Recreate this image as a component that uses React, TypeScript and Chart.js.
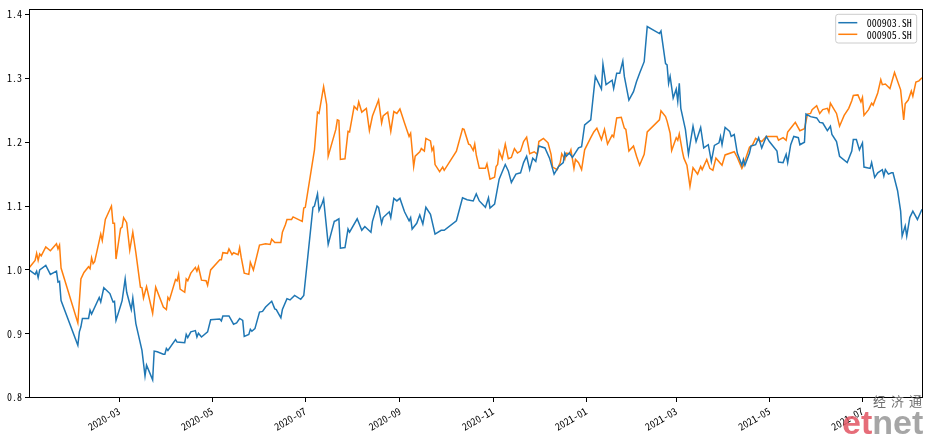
import React, { useEffect, useRef } from 'react';
import { Chart, registerables } from 'chart.js';

Chart.register(...registerables);

// ---- data ----
const seriesNames = ['000903.SH', '000905.SH'];
const seriesColors = ['#1f77b4', '#ff7f0e'];

const blueDates = [
  '2020-01-02','2020-01-06','2020-01-07','2020-01-08','2020-01-09','2020-01-13','2020-01-16','2020-01-20','2020-01-21','2020-01-22','2020-01-23',
  '2020-02-03','2020-02-04','2020-02-05','2020-02-06','2020-02-10','2020-02-11','2020-02-12','2020-02-17','2020-02-18','2020-02-20','2020-02-24','2020-02-26','2020-02-27','2020-02-28',
  '2020-03-02','2020-03-03','2020-03-05','2020-03-06','2020-03-09','2020-03-10','2020-03-12','2020-03-16','2020-03-18','2020-03-19','2020-03-23','2020-03-24','2020-03-26','2020-03-30','2020-03-31',
  '2020-04-01','2020-04-02','2020-04-07','2020-04-08','2020-04-13','2020-04-14','2020-04-15','2020-04-17','2020-04-20','2020-04-21','2020-04-22','2020-04-24','2020-04-28','2020-04-30',
  '2020-05-06','2020-05-07','2020-05-08','2020-05-12','2020-05-15','2020-05-17','2020-05-19','2020-05-21','2020-05-22','2020-05-25','2020-05-26','2020-05-27','2020-05-29',
  '2020-06-01','2020-06-03','2020-06-05','2020-06-09','2020-06-11','2020-06-12','2020-06-15','2020-06-16','2020-06-19','2020-06-21','2020-06-24','2020-06-28','2020-06-30',
  '2020-07-06','2020-07-07','2020-07-09','2020-07-10','2020-07-12','2020-07-13','2020-07-16','2020-07-20','2020-07-21','2020-07-23','2020-07-24','2020-07-27','2020-07-29','2020-07-30',
  '2020-08-04','2020-08-07','2020-08-09','2020-08-13','2020-08-14','2020-08-17','2020-08-18','2020-08-20','2020-08-21','2020-08-25','2020-08-26','2020-08-28','2020-08-30',
  '2020-09-01','2020-09-04','2020-09-07','2020-09-08','2020-09-09','2020-09-12','2020-09-14','2020-09-16','2020-09-18','2020-09-21','2020-09-24','2020-09-28','2020-09-30',
  '2020-10-08','2020-10-12','2020-10-15','2020-10-19','2020-10-21','2020-10-23','2020-10-27','2020-10-29','2020-10-30',
  '2020-11-02','2020-11-05','2020-11-09','2020-11-11','2020-11-13','2020-11-16','2020-11-19','2020-11-21','2020-11-23','2020-11-25','2020-11-27','2020-11-29',
  '2020-12-01','2020-12-05','2020-12-08','2020-12-11','2020-12-14','2020-12-17','2020-12-18','2020-12-19','2020-12-21','2020-12-23','2020-12-27','2020-12-29','2020-12-31',
  '2021-01-04','2021-01-07','2021-01-11','2021-01-12','2021-01-14','2021-01-18','2021-01-19','2021-01-21','2021-01-23','2021-01-25','2021-01-26','2021-01-29',
  '2021-02-01','2021-02-03','2021-02-05','2021-02-08','2021-02-10','2021-02-18','2021-02-19','2021-02-22','2021-02-23','2021-02-24','2021-02-25','2021-02-27',
  '2021-03-01','2021-03-02','2021-03-03','2021-03-04','2021-03-07','2021-03-09','2021-03-12','2021-03-14','2021-03-17','2021-03-19','2021-03-22','2021-03-24','2021-03-26','2021-03-29','2021-03-30','2021-03-31',
  '2021-04-02','2021-04-05','2021-04-06','2021-04-08','2021-04-10','2021-04-13','2021-04-14','2021-04-15','2021-04-18','2021-04-19','2021-04-22','2021-04-24','2021-04-26','2021-04-29',
  '2021-05-01','2021-05-06','2021-05-07','2021-05-10','2021-05-12','2021-05-13','2021-05-15','2021-05-17','2021-05-20','2021-05-21','2021-05-24','2021-05-25','2021-05-28',
  '2021-06-01','2021-06-03','2021-06-05','2021-06-08','2021-06-10','2021-06-11','2021-06-14','2021-06-16','2021-06-21','2021-06-24','2021-06-25','2021-06-27','2021-06-29',
  '2021-07-01','2021-07-02','2021-07-06','2021-07-07','2021-07-09','2021-07-11','2021-07-14','2021-07-15','2021-07-16','2021-07-18','2021-07-20','2021-07-21','2021-07-24','2021-07-26','2021-07-27','2021-07-29','2021-07-30',
  '2021-08-01','2021-08-03','2021-08-06','2021-08-09',
];
const blueValues = [
  1.000,0.993,0.998,0.988,1.000,1.007,0.993,0.998,0.981,0.982,0.952,
  0.882,0.903,0.911,0.924,0.924,0.937,0.931,0.957,0.950,0.972,0.963,0.950,0.951,0.921,
  0.944,0.952,0.986,0.965,0.938,0.956,0.916,0.874,0.834,0.851,0.828,0.873,0.872,0.868,0.868,
  0.877,0.874,0.891,0.887,0.886,0.899,0.894,0.903,0.905,0.895,0.901,0.895,0.903,0.922,
  0.923,0.920,0.928,0.928,0.915,0.917,0.924,0.921,0.896,0.899,0.907,0.904,0.908,
  0.934,0.935,0.942,0.951,0.939,0.938,0.925,0.938,0.955,0.953,0.960,0.954,0.960,
  1.098,1.100,1.119,1.093,1.104,1.111,1.040,1.076,1.077,1.080,1.034,1.035,1.064,1.059,
  1.080,1.062,1.068,1.059,1.076,1.100,1.098,1.073,1.082,1.091,1.082,1.112,1.108,
  1.112,1.091,1.077,1.082,1.064,1.073,1.086,1.072,1.098,1.087,1.056,1.062,1.062,
  1.077,1.113,1.110,1.108,1.119,1.108,1.098,1.113,1.097,
  1.103,1.142,1.165,1.155,1.137,1.150,1.152,1.168,1.178,1.157,1.175,1.170,
  1.194,1.191,1.175,1.150,1.162,1.168,1.183,1.178,1.183,1.176,1.191,1.193,1.227,
  1.235,1.303,1.283,1.322,1.290,1.297,1.284,1.308,1.308,1.327,1.303,1.266,
  1.279,1.295,1.308,1.326,1.381,1.370,1.374,1.323,1.321,1.292,1.303,1.269,
  1.283,1.264,1.292,1.253,1.220,1.181,1.225,1.201,1.223,1.191,1.196,1.170,1.195,1.199,1.209,1.196,
  1.223,1.217,1.209,1.212,1.183,1.164,1.173,1.164,1.183,1.194,1.196,1.207,1.191,1.209,
  1.201,1.186,1.169,1.168,1.181,1.168,1.196,1.209,1.207,1.196,1.200,1.244,1.240,
  1.238,1.231,1.230,1.218,1.225,1.212,1.201,1.178,1.168,1.186,1.204,1.204,1.188,
  1.199,1.161,1.159,1.168,1.145,1.152,1.157,1.147,1.157,1.150,1.152,1.152,1.124,1.092,1.053,1.069,1.053,
  1.082,1.092,1.079,1.095,
];

const orangeDates = [
  '2020-01-02','2020-01-06','2020-01-07','2020-01-08','2020-01-09','2020-01-10','2020-01-13','2020-01-16','2020-01-20','2020-01-21','2020-01-22','2020-01-23',
  '2020-02-03','2020-02-05','2020-02-07','2020-02-10','2020-02-11','2020-02-12','2020-02-13','2020-02-14','2020-02-18','2020-02-19','2020-02-21','2020-02-25','2020-02-26','2020-02-27','2020-02-28',
  '2020-03-02','2020-03-03','2020-03-04','2020-03-06','2020-03-08','2020-03-10','2020-03-12','2020-03-15','2020-03-16','2020-03-17','2020-03-19','2020-03-23','2020-03-25','2020-03-30',
  '2020-04-01','2020-04-02','2020-04-03','2020-04-07','2020-04-08','2020-04-09','2020-04-10','2020-04-13','2020-04-14','2020-04-15','2020-04-17','2020-04-20','2020-04-21','2020-04-22','2020-04-24','2020-04-27','2020-04-28','2020-04-30',
  '2020-05-06','2020-05-07','2020-05-08','2020-05-11','2020-05-12','2020-05-14','2020-05-15','2020-05-18','2020-05-19','2020-05-20','2020-05-22','2020-05-25','2020-05-26','2020-05-28',
  '2020-06-01','2020-06-05','2020-06-08','2020-06-09','2020-06-11','2020-06-15','2020-06-16','2020-06-18','2020-06-19','2020-06-22','2020-06-23','2020-06-29','2020-06-30',
  '2020-07-01','2020-07-07','2020-07-09','2020-07-10','2020-07-13','2020-07-15','2020-07-16','2020-07-21','2020-07-22','2020-07-23','2020-07-24','2020-07-27','2020-07-29','2020-07-30',
  '2020-08-02','2020-08-04','2020-08-05','2020-08-07','2020-08-10','2020-08-12','2020-08-14','2020-08-18','2020-08-20','2020-08-21','2020-08-24','2020-08-26','2020-08-28','2020-08-30',
  '2020-09-01','2020-09-04','2020-09-07','2020-09-08','2020-09-10','2020-09-11','2020-09-14','2020-09-15','2020-09-17','2020-09-18','2020-09-21','2020-09-22','2020-09-23','2020-09-24','2020-09-27','2020-09-29','2020-09-30',
  '2020-10-08','2020-10-12','2020-10-13','2020-10-16','2020-10-17','2020-10-19','2020-10-20','2020-10-21','2020-10-23','2020-10-27','2020-10-28','2020-10-30',
  '2020-11-02','2020-11-03','2020-11-04','2020-11-05','2020-11-07','2020-11-09','2020-11-11','2020-11-13','2020-11-15','2020-11-17','2020-11-19','2020-11-21','2020-11-23','2020-11-25','2020-11-28','2020-11-30',
  '2020-12-01','2020-12-04','2020-12-07','2020-12-09','2020-12-10','2020-12-13','2020-12-15','2020-12-16','2020-12-18','2020-12-19','2020-12-21','2020-12-22','2020-12-24','2020-12-25','2020-12-27','2020-12-29','2020-12-31',
  '2021-01-04','2021-01-06','2021-01-08','2021-01-09','2021-01-11','2021-01-13','2021-01-15','2021-01-18','2021-01-19','2021-01-21','2021-01-24','2021-01-26','2021-01-27','2021-01-29',
  '2021-02-01','2021-02-03','2021-02-05','2021-02-08','2021-02-10','2021-02-18','2021-02-19','2021-02-22','2021-02-23','2021-02-25','2021-02-26',
  '2021-03-01','2021-03-02','2021-03-03','2021-03-05','2021-03-06','2021-03-08','2021-03-10','2021-03-12','2021-03-15','2021-03-17','2021-03-18','2021-03-21','2021-03-23','2021-03-25','2021-03-27','2021-03-31',
  '2021-04-02','2021-04-08','2021-04-10','2021-04-13','2021-04-14','2021-04-16','2021-04-18','2021-04-20','2021-04-22','2021-04-24','2021-04-26','2021-04-29',
  '2021-05-06','2021-05-07','2021-05-10','2021-05-12','2021-05-13','2021-05-16','2021-05-18','2021-05-21','2021-05-24','2021-05-26','2021-05-28','2021-05-29',
  '2021-06-01','2021-06-03','2021-06-05','2021-06-08','2021-06-09','2021-06-10','2021-06-12','2021-06-14','2021-06-16','2021-06-19','2021-06-22','2021-06-24','2021-06-25','2021-06-28','2021-06-30',
  '2021-07-01','2021-07-02','2021-07-05','2021-07-07','2021-07-08','2021-07-11','2021-07-13','2021-07-14','2021-07-16','2021-07-19','2021-07-22','2021-07-26','2021-07-28','2021-07-29','2021-07-31',
  '2021-08-02','2021-08-03','2021-08-05','2021-08-07','2021-08-09',
];
const orangeValues = [
  1.003,1.015,1.026,1.015,1.025,1.022,1.036,1.030,1.041,1.033,1.039,1.003,
  0.917,0.986,0.996,1.005,1.002,1.019,1.010,1.013,1.056,1.046,1.079,1.100,1.073,1.073,1.017,
  1.065,1.067,1.082,1.074,1.031,1.059,1.027,0.973,0.972,0.956,0.974,0.932,0.973,0.942,
  0.938,0.957,0.953,0.985,0.983,0.993,0.970,0.965,0.986,0.983,0.995,1.004,0.998,1.005,0.984,0.983,0.976,1.000,
  1.016,1.016,1.027,1.026,1.033,1.024,1.027,1.024,1.035,1.020,0.995,0.993,1.012,1.000,
  1.039,1.041,1.040,1.048,1.043,1.043,1.059,1.071,1.079,1.079,1.083,1.076,1.097,
  1.098,1.188,1.247,1.245,1.287,1.259,1.178,1.220,1.235,1.234,1.173,1.174,1.217,1.216,
  1.256,1.251,1.263,1.247,1.253,1.218,1.241,1.266,1.230,1.241,1.247,1.217,1.248,1.245,
  1.252,1.230,1.209,1.214,1.162,1.178,1.185,1.190,1.186,1.206,1.202,1.187,1.192,1.165,1.154,1.161,1.156,
  1.186,1.221,1.220,1.197,1.196,1.187,1.197,1.180,1.159,1.159,1.166,1.142,
  1.145,1.162,1.165,1.186,1.174,1.197,1.174,1.176,1.190,1.183,1.186,1.201,1.208,1.182,1.185,1.181,
  1.201,1.206,1.199,1.181,1.161,1.157,1.168,1.182,1.173,1.183,1.182,1.188,1.159,1.173,1.168,1.157,1.188,
  1.207,1.216,1.222,1.216,1.204,1.220,1.197,1.211,1.208,1.238,1.239,1.222,1.220,1.186,
  1.194,1.178,1.164,1.181,1.216,1.235,1.249,1.240,1.233,1.214,1.187,
  1.207,1.203,1.213,1.186,1.175,1.164,1.131,1.160,1.150,1.162,1.157,1.173,1.159,1.156,1.175,1.164,
  1.180,1.185,1.176,1.159,1.164,1.178,1.192,1.196,1.206,1.203,1.201,1.209,
  1.209,1.203,1.207,1.203,1.216,1.225,1.231,1.218,1.221,1.244,1.245,1.251,
  1.257,1.245,1.251,1.253,1.247,1.261,1.253,1.245,1.225,1.242,1.253,1.265,1.273,1.274,1.263,
  1.270,1.242,1.251,1.261,1.258,1.277,1.298,1.290,1.291,1.284,1.309,1.282,1.235,1.260,1.266,
  1.280,1.272,1.294,1.296,1.301,
];

const xTickDates = ['2020-03-01','2020-05-01','2020-07-01','2020-09-01','2020-11-01','2021-01-01','2021-03-01','2021-05-01','2021-07-01'];
const xTickLabels = ['2020-03','2020-05','2020-07','2020-09','2020-11','2021-01','2021-03','2021-05','2021-07'];
const yTickValues = [0.8, 0.9, 1.0, 1.1, 1.2, 1.3, 1.4];
const yMin = 0.7995;
const yMax = 1.4085;
const watermarkCN = ['经', '济', '通'];
const watermarkRed = 'et';
const watermarkGray = 'net';

const FONT_FAMILY = "'Noto Sans Mono CJK SC', 'DejaVu Sans Mono', monospace";

const toDay = (s: string) => {
  const [y, m, d] = s.split('-').map(Number);
  return Date.UTC(y, m - 1, d) / 86400000;
};

const framePlugin = {
  id: 'frame',
  afterDraw(chart: any) {
    const { ctx, chartArea: a } = chart;
    ctx.save();
    ctx.strokeStyle = '#000';
    ctx.lineWidth = 1;
    const l = Math.round(a.left) + 0.5;
    const t = Math.round(a.top) + 0.5;
    const r = Math.round(a.right) + 0.5;
    const b = Math.round(a.bottom) - 0.5;
    ctx.strokeRect(l, t, r - l, b - t);
    ctx.restore();
  },
};

const legendPlugin = {
  id: 'mplLegend',
  afterDraw(chart: any) {
    const { ctx, chartArea: a } = chart;
    const ds = chart.data.datasets;
    ctx.save();
    ctx.font = `10px ${FONT_FAMILY}`;
    const tw = Math.max(...ds.map((d: any) => ctx.measureText(d.label).width));
    const w = 31.5 + tw + 4.5;
    const h = 28.7;
    const x0 = a.right - 5.3 - w;
    const y0 = a.top + 5.3;
    ctx.beginPath();
    (ctx as any).roundRect(x0, y0, w, h, 2.5);
    ctx.fillStyle = 'rgba(255,255,255,0.8)';
    ctx.fill();
    ctx.strokeStyle = '#cccccc';
    ctx.lineWidth = 1;
    ctx.stroke();
    ds.forEach((d: any, i: number) => {
      const y = y0 + 8.4 + i * 11.6;
      ctx.beginPath();
      ctx.moveTo(x0 + 2.6, y);
      ctx.lineTo(x0 + 21.6, y);
      ctx.strokeStyle = d.borderColor;
      ctx.lineWidth = 1.5;
      ctx.stroke();
      ctx.fillStyle = '#000';
      ctx.textBaseline = 'middle';
      ctx.textAlign = 'left';
      ctx.fillText(d.label, x0 + 31, y + 0.5);
    });
    ctx.restore();
  },
};

const watermarkPlugin = {
  id: 'watermark',
  afterDraw(chart: any) {
    const { ctx } = chart;
    ctx.save();
    ctx.font = "13px 'Noto Sans CJK SC'";
    ctx.fillStyle = '#6e6e6e';
    ctx.textBaseline = 'alphabetic';
    ctx.textAlign = 'left';
    watermarkCN.forEach((c, i) => ctx.fillText(c, 873 + i * 18, 406));
    ctx.font = "bold 34px 'Liberation Sans'";
    const x = 842;
    ctx.fillStyle = 'rgba(226, 84, 98, 0.85)';
    ctx.fillText(watermarkRed, x, 434);
    const wRed = ctx.measureText(watermarkRed).width;
    ctx.fillStyle = 'rgba(150, 150, 150, 0.85)';
    ctx.fillText(watermarkGray, x + wRed, 434);
    ctx.restore();
  },
};

export default function App() {
  const ref = useRef<HTMLCanvasElement | null>(null);

  useEffect(() => {
    document.body.style.margin = '0';
    const canvas = ref.current;
    if (!canvas) return;
    const allDays = [...blueDates, ...orangeDates].map(toDay);
    const xMin = Math.min(...allDays);
    const xMax = Math.max(...allDays);

    const chart = new Chart(canvas, {
      type: 'line',
      data: {
        datasets: [
          {
            label: seriesNames[0],
            data: blueDates.map((d, i) => ({ x: toDay(d), y: blueValues[i] })),
            borderColor: seriesColors[0],
            backgroundColor: seriesColors[0],
            borderWidth: 1.5,
            pointRadius: 0,
            tension: 0,
            fill: false,
          },
          {
            label: seriesNames[1],
            data: orangeDates.map((d, i) => ({ x: toDay(d), y: orangeValues[i] })),
            borderColor: seriesColors[1],
            backgroundColor: seriesColors[1],
            borderWidth: 1.5,
            pointRadius: 0,
            tension: 0,
            fill: false,
          },
        ],
      },
      options: {
        animation: false,
        responsive: false,
        maintainAspectRatio: false,
        layout: { padding: { left: 0, right: 7, top: 7, bottom: 0 } },
        plugins: { legend: { display: false }, tooltip: { enabled: false } },
        scales: {
          x: {
            type: 'linear',
            min: xMin,
            max: xMax,
            border: { display: false },
            grid: { display: true, drawOnChartArea: false, drawTicks: true, tickLength: 4, color: '#000', lineWidth: 1 },
            afterBuildTicks: (scale: any) => {
              scale.ticks = xTickDates.map((d) => ({ value: toDay(d) }));
            },
            afterFit: (scale: any) => {
              scale.height = 39;
            },
            ticks: {
              autoSkip: false,
              minRotation: 30,
              maxRotation: 30,
              padding: 3,
              color: '#000',
              font: { family: FONT_FAMILY, size: 10 },
              callback: (_v: any, i: number) => xTickLabels[i],
            },
          },
          y: {
            type: 'linear',
            min: yMin,
            max: yMax,
            border: { display: false },
            grid: { display: true, drawOnChartArea: false, drawTicks: true, tickLength: 4, color: '#000', lineWidth: 1 },
            afterBuildTicks: (scale: any) => {
              scale.ticks = yTickValues.map((v) => ({ value: v }));
            },
            afterFit: (scale: any) => {
              scale.width = 29;
            },
            ticks: {
              padding: 3,
              color: '#000',
              font: { family: FONT_FAMILY, size: 10 },
              callback: (v: any) => Number(v).toFixed(1),
            },
          },
        },
      },
      plugins: [framePlugin, legendPlugin, watermarkPlugin],
    } as any);

    return () => chart.destroy();
  }, []);

  return (
    <div style={{ position: 'relative', width: 929, height: 437, background: '#fff' }}>
      <canvas ref={ref} width={929} height={437} style={{ display: 'block', width: 929, height: 437 }} />
    </div>
  );
}
